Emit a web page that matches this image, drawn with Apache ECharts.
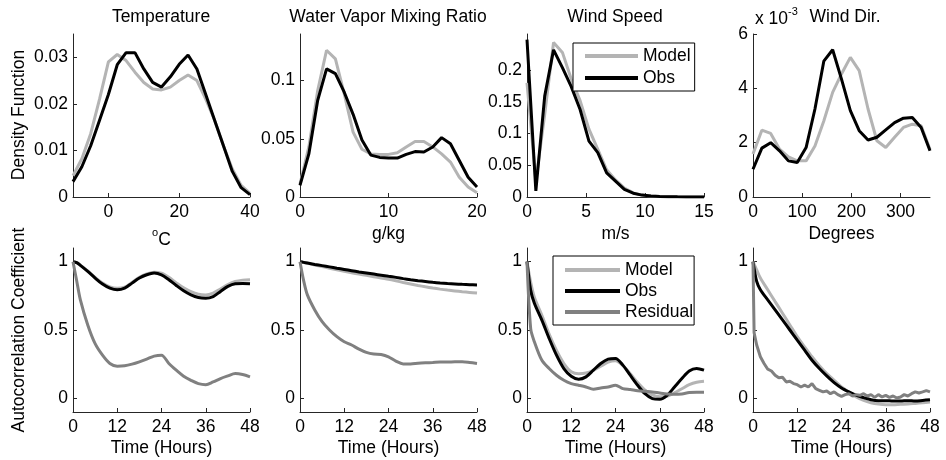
<!DOCTYPE html>
<html>
<head>
<meta charset="utf-8">
<script src="https://cdn.jsdelivr.net/npm/echarts@6/dist/echarts.min.js"></script>
<style>
html, body { margin: 0; padding: 0; background: #fff; }
#chart { width: 946px; height: 460px; }
</style>
</head>
<body>
<div id="chart"></div>
<script>
// ---- density functions (top row) ----
var tempX = [-10, -7.5, -5, -2.5, 0, 2.5, 5, 7.5, 10, 12.5, 15, 17.5, 20, 22.5, 25, 27.5, 30, 32.5, 35, 37.5, 40];
var tempModel = [0.0046, 0.0082, 0.0136, 0.021, 0.029, 0.0306, 0.0293, 0.0268, 0.0246, 0.0232, 0.023, 0.0236, 0.025, 0.0262, 0.025, 0.021, 0.0165, 0.011, 0.006, 0.0025, 0.0008];
var tempObs = [0.0033, 0.0065, 0.011, 0.0165, 0.022, 0.0284, 0.031, 0.031, 0.0275, 0.0246, 0.0236, 0.0258, 0.0285, 0.0305, 0.0275, 0.022, 0.0165, 0.011, 0.0055, 0.002, 0.0005];

var mixX = [0, 1, 2, 3, 4, 5, 6, 7, 8, 9, 10, 11, 12, 13, 14, 15, 16, 17, 18, 19, 20];
var mixModel = [0.011, 0.043, 0.0914, 0.126, 0.1186, 0.0886, 0.0557, 0.041, 0.037, 0.0366, 0.0366, 0.038, 0.043, 0.0477, 0.0477, 0.043, 0.037, 0.03, 0.017, 0.0086, 0.0037];
var mixObs = [0.01, 0.037, 0.083, 0.11, 0.106, 0.09, 0.071, 0.049, 0.036, 0.034, 0.0334, 0.0334, 0.0366, 0.039, 0.0386, 0.043, 0.051, 0.0457, 0.0314, 0.017, 0.0086];

var speedX = [0, 0.75, 1.5, 2.25, 3, 3.75, 4.5, 5.25, 6, 6.75, 7.5, 8.25, 9, 9.75, 10.5, 11.25, 12, 12.75, 13.5, 14.25, 15];
var speedModel = [0.18, 0.025, 0.13, 0.2437, 0.228, 0.186, 0.152, 0.107, 0.075, 0.043, 0.027, 0.014, 0.0065, 0.003, 0.0015, 0.0008, 0.0004, 0.0002, 0.0001, 0, 0];
var speedObs = [0.248, 0.0095, 0.159, 0.232, 0.204, 0.174, 0.138, 0.088, 0.07, 0.038, 0.025, 0.012, 0.006, 0.003, 0.0015, 0.0008, 0.0004, 0.0002, 0.0001, 0, 0];

// wind direction density, in units of 10^-3
var dirX = [0, 18, 36, 54, 72, 90, 108, 126, 144, 162, 180, 198, 216, 234, 252, 270, 288, 306, 324, 342, 360];
var dirModel = [1.58, 2.46, 2.34, 1.76, 1.48, 1.33, 1.33, 1.88, 2.8, 3.85, 4.53, 5.14, 4.65, 3.24, 2.07, 1.82, 2.2, 2.56, 2.68, 2.62, 1.75];
var dirObs = [1.02, 1.8, 2.0, 1.7, 1.33, 1.27, 1.82, 3.24, 5.0, 5.42, 4.34, 3.18, 2.44, 2.1, 2.2, 2.47, 2.74, 2.9, 2.93, 2.56, 1.7];

// ---- autocorrelation (bottom row) ----
var lagX = [0, 1, 2, 4, 6, 8, 10, 12, 14, 16, 18, 20, 22, 24, 26, 28, 30, 32, 34, 36, 38, 40, 42, 44, 46, 48];

var tempAcfModel = [1.0, 0.994, 0.975, 0.932, 0.885, 0.843, 0.815, 0.805, 0.813, 0.848, 0.885, 0.91, 0.923, 0.915, 0.885, 0.845, 0.808, 0.78, 0.762, 0.757, 0.77, 0.8, 0.832, 0.855, 0.865, 0.868];
var tempAcfObs = [1.0, 0.993, 0.973, 0.929, 0.88, 0.836, 0.806, 0.794, 0.806, 0.843, 0.88, 0.904, 0.917, 0.904, 0.868, 0.826, 0.787, 0.757, 0.738, 0.733, 0.745, 0.782, 0.819, 0.838, 0.84, 0.838];
var tempAcfResid = [1.0, 0.86, 0.72, 0.537, 0.4, 0.316, 0.255, 0.235, 0.238, 0.25, 0.267, 0.287, 0.309, 0.316, 0.255, 0.206, 0.162, 0.132, 0.108, 0.1, 0.12, 0.145, 0.164, 0.181, 0.174, 0.157];

var mixAcfModel = [1.0, 0.994, 0.988, 0.976, 0.964, 0.952, 0.94, 0.929, 0.919, 0.909, 0.9, 0.89, 0.88, 0.871, 0.86, 0.848, 0.837, 0.826, 0.816, 0.807, 0.799, 0.792, 0.786, 0.78, 0.775, 0.77];
var mixAcfObs = [1.0, 0.995, 0.99, 0.98, 0.971, 0.962, 0.952, 0.943, 0.934, 0.925, 0.917, 0.909, 0.901, 0.893, 0.885, 0.876, 0.868, 0.861, 0.855, 0.849, 0.844, 0.84, 0.837, 0.834, 0.832, 0.83];
var mixAcfResid = [1.0, 0.86, 0.757, 0.647, 0.561, 0.5, 0.451, 0.414, 0.39, 0.36, 0.336, 0.324, 0.321, 0.304, 0.272, 0.252, 0.252, 0.257, 0.26, 0.262, 0.265, 0.265, 0.267, 0.267, 0.262, 0.255];

var speedAcfModel = [1.0, 0.85, 0.74, 0.61, 0.47, 0.35, 0.255, 0.195, 0.18, 0.185, 0.205, 0.235, 0.265, 0.275, 0.24, 0.18, 0.115, 0.06, 0.025, 0.012, 0.015, 0.04, 0.07, 0.1, 0.118, 0.125];
var speedAcfObs = [1.0, 0.79, 0.696, 0.574, 0.439, 0.316, 0.218, 0.162, 0.14, 0.157, 0.206, 0.255, 0.287, 0.292, 0.243, 0.169, 0.096, 0.034, -0.002, -0.007, 0.022, 0.083, 0.145, 0.2, 0.218, 0.206];
var speedAcfResid = [1.0, 0.51, 0.414, 0.28, 0.218, 0.169, 0.132, 0.108, 0.096, 0.083, 0.066, 0.076, 0.083, 0.096, 0.071, 0.064, 0.056, 0.051, 0.047, 0.039, 0.032, 0.029, 0.032, 0.042, 0.044, 0.044];

var dirAcfModel = [1.0, 0.94, 0.88, 0.794, 0.708, 0.623, 0.537, 0.451, 0.377, 0.304, 0.238, 0.181, 0.132, 0.083, 0.047, 0.01, -0.015, -0.032, -0.042, -0.047, -0.047, -0.044, -0.042, -0.037, -0.032, -0.027];
var dirAcfObs = [1.0, 0.855, 0.794, 0.72, 0.647, 0.574, 0.5, 0.426, 0.353, 0.279, 0.218, 0.164, 0.115, 0.076, 0.047, 0.022, 0.005, -0.01, -0.017, -0.017, -0.02, -0.02, -0.017, -0.02, -0.015, -0.01];
var dirResidX = [0, 0.3, 1, 2, 3, 4, 5, 6, 7, 8, 9, 10, 11, 12, 13, 14, 15, 16, 17, 18, 19, 20, 21, 22, 23, 24, 25, 26, 27, 28, 29, 30, 31, 32, 33, 34, 35, 36, 37, 38, 39, 40, 41, 42, 43, 44, 45, 46, 47, 48];
var dirAcfResid = [1.0, 0.48, 0.39, 0.304, 0.255, 0.213, 0.2, 0.169, 0.15, 0.154, 0.12, 0.125, 0.108, 0.1, 0.083, 0.096, 0.083, 0.108, 0.071, 0.059, 0.047, 0.054, 0.034, 0.047, 0.027, 0.015, 0.027, 0.034, 0.017, 0.027, 0.022, 0.034, 0.017, 0.027, 0.007, 0.027, 0.01, 0.022, 0.007, 0.017, 0.002, 0.01, 0.027, 0.017, 0.034, 0.047, 0.039, 0.047, 0.056, 0.047];

// ---- tick labels ----
var tempTicks = [0, 20, 40];
var mixTicks = [0, 10, 20];
var speedTicks = [0, 5, 10, 15];
var dirTicks = [0, 100, 200, 300];
var lagTicks = [0, 12, 24, 36, 48];
var tempDensTicks = [0, 0.01, 0.02, 0.03];
var mixDensTicks = [0, 0.05, 0.1];
var speedDensTicks = [0, 0.05, 0.1, 0.15, 0.2];
var dirDensTicks = [0, 2, 4, 6];
var acfTicks = [0, 0.5, 1];

var FONT = '"Liberation Sans", Arial, Helvetica, sans-serif';
var FS = 17.5;
var MODEL_COLOR = '#b4b4b4';
var OBS_COLOR = '#000000';
var RESID_COLOR = '#808080';
var AXIS_COLOR = '#262626';

var colLeft = [73, 300, 527, 753];
var colWidth = 177;
var rowTop = [34, 248];
var rowHeight = [163, 164];

function pairs(xs, ys) {
    return xs.map(function (x, i) { return [x, ys[i]]; });
}

var panels = [
    { row: 0, col: 0, xMin: -10, xMax: 40, xTicks: tempTicks, yMin: 0, yMax: 0.035, yTicks: tempDensTicks, xName: '{s|o}{n|C}', nameGap: 30,
      series: [['Model', tempX, tempModel, MODEL_COLOR], ['Obs', tempX, tempObs, OBS_COLOR]] },
    { row: 0, col: 1, xMin: 0, xMax: 20, xTicks: mixTicks, yMin: 0, yMax: 0.14, yTicks: mixDensTicks, xName: 'g/kg', nameGap: 28,
      series: [['Model', mixX, mixModel, MODEL_COLOR], ['Obs', mixX, mixObs, OBS_COLOR]] },
    { row: 0, col: 2, xMin: 0, xMax: 15, xTicks: speedTicks, yMin: 0, yMax: 0.257, yTicks: speedDensTicks, xName: 'm/s', nameGap: 28,
      series: [['Model', speedX, speedModel, MODEL_COLOR], ['Obs', speedX, speedObs, OBS_COLOR]] },
    { row: 0, col: 3, xMin: 0, xMax: 360, xTicks: dirTicks, yMin: 0, yMax: 6, yTicks: dirDensTicks, xName: 'Degrees', nameGap: 28,
      series: [['Model', dirX, dirModel, MODEL_COLOR], ['Obs', dirX, dirObs, OBS_COLOR]] },
    { row: 1, col: 0, xMin: 0, xMax: 48, xTicks: lagTicks, yMin: -0.1, yMax: 1.1, yTicks: acfTicks, xName: 'Time (Hours)', nameGap: 27, smooth: true,
      series: [['Model', lagX, tempAcfModel, MODEL_COLOR], ['Obs', lagX, tempAcfObs, OBS_COLOR], ['Residual', lagX, tempAcfResid, RESID_COLOR]] },
    { row: 1, col: 1, xMin: 0, xMax: 48, xTicks: lagTicks, yMin: -0.1, yMax: 1.1, yTicks: acfTicks, xName: 'Time (Hours)', nameGap: 27, smooth: true,
      series: [['Model', lagX, mixAcfModel, MODEL_COLOR], ['Obs', lagX, mixAcfObs, OBS_COLOR], ['Residual', lagX, mixAcfResid, RESID_COLOR]] },
    { row: 1, col: 2, xMin: 0, xMax: 48, xTicks: lagTicks, yMin: -0.1, yMax: 1.1, yTicks: acfTicks, xName: 'Time (Hours)', nameGap: 27, smooth: true,
      series: [['Model', lagX, speedAcfModel, MODEL_COLOR], ['Obs', lagX, speedAcfObs, OBS_COLOR], ['Residual', lagX, speedAcfResid, RESID_COLOR]] },
    { row: 1, col: 3, xMin: 0, xMax: 48, xTicks: lagTicks, yMin: -0.1, yMax: 1.1, yTicks: acfTicks, xName: 'Time (Hours)', nameGap: 27, smooth: true,
      series: [['Model', lagX, dirAcfModel, MODEL_COLOR], ['Obs', lagX, dirAcfObs, OBS_COLOR], ['Residual', dirResidX, dirAcfResid, RESID_COLOR, 'raw']] }
];

var grids = [], xAxes = [], yAxes = [], seriesList = [];

panels.forEach(function (p, i) {
    grids.push({ left: colLeft[p.col], top: rowTop[p.row], width: colWidth, height: rowHeight[p.row], containLabel: false });
    xAxes.push({
        type: 'value', gridIndex: i, min: p.xMin, max: p.xMax,
        name: p.xName, nameLocation: 'middle', nameGap: p.nameGap,
        nameTextStyle: {
            color: '#000', fontFamily: FONT, fontSize: FS,
            rich: {
                s: { fontSize: 11, lineHeight: 11, verticalAlign: 'top', fontFamily: FONT, color: '#000' },
                n: { fontSize: FS, lineHeight: 22, verticalAlign: 'bottom', fontFamily: FONT, color: '#000' }
            }
        },
        axisLine: { onZero: false, lineStyle: { color: AXIS_COLOR, width: 1 } },
        axisTick: { inside: true, length: 4, customValues: p.xTicks, lineStyle: { color: AXIS_COLOR } },
        axisLabel: { customValues: p.xTicks, color: '#000', fontFamily: FONT, fontSize: FS, margin: 6 },
        splitLine: { show: false }
    });
    yAxes.push({
        type: 'value', gridIndex: i, min: p.yMin, max: p.yMax,
        axisLine: { show: true, onZero: false, lineStyle: { color: AXIS_COLOR, width: 1 } },
        axisTick: { show: true, inside: true, length: 4, customValues: p.yTicks, lineStyle: { color: AXIS_COLOR } },
        axisLabel: { customValues: p.yTicks, color: '#000', fontFamily: FONT, fontSize: FS, margin: 5 },
        splitLine: { show: false }
    });
    p.series.forEach(function (s) {
        seriesList.push({
            name: s[0], type: 'line', xAxisIndex: i, yAxisIndex: i,
            data: pairs(s[1], s[2]),
            symbol: 'none', showSymbol: false,
            smooth: (p.smooth && s[4] !== 'raw') ? 0.3 : false,
            lineStyle: { color: s[3], width: 3 },
            itemStyle: { color: s[3] },
            silent: true
        });
    });
});

var titleFont = FS + 'px ' + FONT;
var titles = [
    ['Temperature', 161], ['Water Vapor Mixing Ratio', 388], ['Wind Speed', 615], ['Wind Dir.', 845]
];
var graphics = titles.map(function (t) {
    return { type: 'text', x: t[1], y: 8, style: { text: t[0], font: titleFont, fill: '#000', align: 'center', verticalAlign: 'top' } };
});
graphics.push({
    type: 'text', x: 755, y: 6,
    style: {
        text: '{n|x 10}{s|-3}', fill: '#000', align: 'left', verticalAlign: 'top',
        rich: {
            n: { fontSize: FS, fontFamily: FONT, lineHeight: 22, verticalAlign: 'bottom', fill: '#000' },
            s: { fontSize: 11, fontFamily: FONT, lineHeight: 11, verticalAlign: 'top', fill: '#000' }
        }
    }
});
graphics.push({
    type: 'text', x: 19, y: 115, rotation: Math.PI / 2,
    style: { text: 'Density Function', font: titleFont, fill: '#000', align: 'center', verticalAlign: 'middle' }
});
graphics.push({
    type: 'text', x: 19, y: 330, rotation: Math.PI / 2,
    style: { text: 'Autocorrelation Coefficient', font: titleFont, fill: '#000', align: 'center', verticalAlign: 'middle' }
});

function legendBox(left, top, names, gap, padding, iconWidth) {
    return {
        orient: 'vertical', left: left, top: top, data: names,
        selectedMode: false, icon: 'rect', itemWidth: iconWidth, itemHeight: 4, itemGap: gap,
        padding: padding, borderColor: '#000', borderWidth: 1, backgroundColor: '#fff',
        textStyle: { color: '#000', fontFamily: FONT, fontSize: FS, lineHeight: 18 }
    };
}

var chart = echarts.init(document.getElementById('chart'), null, { renderer: 'canvas' });
chart.setOption({
    animation: false,
    backgroundColor: '#fff',
    grid: grids,
    xAxis: xAxes,
    yAxis: yAxes,
    legend: [
        legendBox(573, 43, ['Model', 'Obs'], 4, [4, 4, 4, 12], 53),
        legendBox(553, 256, ['Model', 'Obs', 'Residual'], 3, [5, 1, 4, 12], 55)
    ],
    graphic: graphics,
    series: seriesList
});
</script>
</body>
</html>
